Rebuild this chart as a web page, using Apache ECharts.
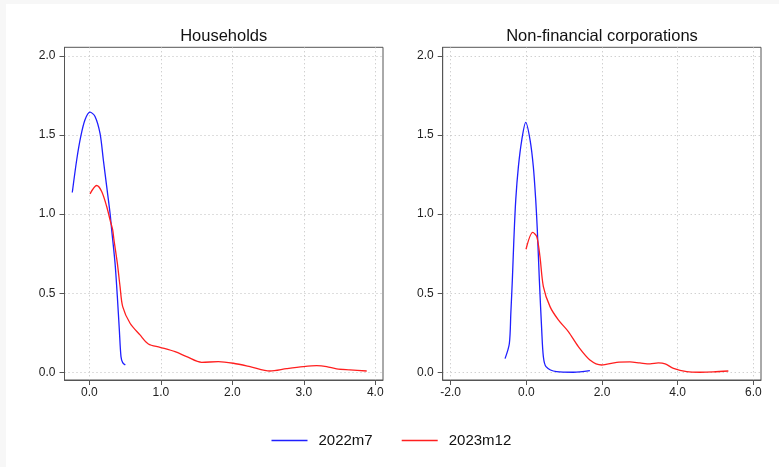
<!DOCTYPE html>
<html>
<head>
<meta charset="utf-8">
<script src="https://cdn.jsdelivr.net/npm/echarts@6/dist/echarts.min.js"></script>
<style>
  html, body { margin: 0; padding: 0; background: #f7f7f7; width: 779px; height: 467px; overflow: hidden; }
  #chart { position: absolute; left: 6px; top: 4px; width: 773px; height: 463px; background: #ffffff; }
</style>
</head>
<body>
<div id="chart"></div>
<script>
// Kernel density estimates of rate changes, by sector and period
const panelTitles = ['Households', 'Non-financial corporations'];
const seriesNames = ['2022m7', '2023m12'];

// Households, 2022m7
const hhX1 = [-0.238, -0.176, -0.12, -0.06, 0.01, 0.08, 0.15, 0.196, 0.243, 0.29, 0.313, 0.36, 0.392, 0.42, 0.443, 0.467, 0.504];
const hhY1 = [1.137, 1.344, 1.49, 1.597, 1.645, 1.618, 1.51, 1.344, 1.175, 1.006, 0.90, 0.69, 0.479, 0.268, 0.099, 0.061, 0.046];
// Households, 2023m12
const hhX2 = [0.01, 0.103, 0.173, 0.243, 0.29, 0.327, 0.345, 0.392, 0.43, 0.467, 0.57, 0.709, 0.826, 0.989, 1.199, 1.362, 1.572, 1.805, 2.014, 2.248, 2.527, 2.76, 2.993, 3.18, 3.32, 3.46, 3.646, 3.88];
const hhY2 = [1.128, 1.181, 1.143, 1.048, 0.964, 0.90, 0.837, 0.69, 0.542, 0.415, 0.31, 0.236, 0.179, 0.158, 0.13, 0.099, 0.063, 0.067, 0.057, 0.036, 0.008, 0.023, 0.036, 0.042, 0.036, 0.021, 0.015, 0.008];
// Non-financial corporations, 2022m7
const nfcX1 = [-0.563, -0.45, -0.41, -0.37, -0.33, -0.28, -0.21, -0.12, -0.016, 0.098, 0.185, 0.248, 0.29, 0.344, 0.406, 0.45, 0.52, 0.80, 1.24, 1.68];
const nfcY1 = [0.086, 0.18, 0.373, 0.584, 0.837, 1.09, 1.30, 1.47, 1.58, 1.47, 1.30, 1.09, 0.90, 0.584, 0.268, 0.099, 0.036, 0.004, 0.0, 0.01];
// Non-financial corporations, 2023m12
const nfcX2 = [-0.008, 0.17, 0.275, 0.36, 0.45, 0.626, 0.846, 1.11, 1.375, 1.68, 1.99, 2.39, 2.74, 3.0, 3.27, 3.49, 3.67, 3.89, 4.24, 4.59, 4.94, 5.34];
const nfcY2 = [0.778, 0.884, 0.858, 0.732, 0.542, 0.415, 0.331, 0.257, 0.162, 0.078, 0.046, 0.063, 0.065, 0.059, 0.053, 0.059, 0.053, 0.025, 0.004, 0.0, 0.002, 0.008];

// Axis ticks
const hhXTicks = [0, 1, 2, 3, 4];
const nfcXTicks = [-2, 0, 2, 4, 6];
const yTicks = [0, 0.5, 1, 1.5, 2];

const pairs = (xs, ys) => xs.map((x, i) => [x, ys[i]]);

const COL_A = '#1f1fff';
const COL_B = '#ff1f1f';
const FONT = 'Liberation Sans, Arial, Helvetica, sans-serif';

const gridLine = { show: true, lineStyle: { color: '#bdbdbd', type: [1, 3], width: 1 } };

function xAxisFor(gi, min, max, ticks) {
  return {
    type: 'value', gridIndex: gi, min: min, max: max,
    axisLine: { show: true, onZero: false, lineStyle: { color: '#555', width: 1 } },
    axisTick: { show: true, inside: false, length: 5, customValues: ticks, lineStyle: { color: '#555' } },
    axisLabel: { customValues: ticks, color: '#222', fontSize: 12, fontFamily: FONT, margin: 7,
                 formatter: v => v.toFixed(1) },
    splitLine: gridLine
  };
}
function yAxisFor(gi) {
  return {
    type: 'value', gridIndex: gi, min: -0.049, max: 2.055,
    axisLine: { show: true, onZero: false, lineStyle: { color: '#555', width: 1 } },
    axisTick: { show: true, inside: false, length: 5, customValues: yTicks, lineStyle: { color: '#555' } },
    axisLabel: { customValues: yTicks, color: '#222', fontSize: 12, fontFamily: FONT, margin: 9,
                 formatter: v => v.toFixed(1) },
    splitLine: gridLine
  };
}
function line(name, gi, data, color) {
  return {
    name: name, type: 'line', xAxisIndex: gi, yAxisIndex: gi,
    data: data, symbol: 'none', showSymbol: false, smooth: 0.3,
    lineStyle: { color: color, width: 1.3 }, itemStyle: { color: color },
    animation: false
  };
}

const chart = echarts.init(document.getElementById('chart'), null, { renderer: 'canvas' });
chart.setOption({
  animation: false,
  backgroundColor: '#ffffff',
  title: [
    { text: panelTitles[0], left: 217.7, top: 23, textAlign: 'center', padding: 0,
      textStyle: { fontSize: 16.5, fontWeight: 'normal', color: '#111', fontFamily: FONT, lineHeight: 18 } },
    { text: panelTitles[1], left: 596, top: 23, textAlign: 'center', padding: 0,
      textStyle: { fontSize: 16.5, fontWeight: 'normal', color: '#111', fontFamily: FONT, lineHeight: 18 } }
  ],
  legend: {
    data: seriesNames, left: 265.5, top: 429, padding: 0,
    icon: 'rect', itemWidth: 36, itemHeight: 1.5, itemGap: 29,
    textStyle: { fontSize: 15, color: '#111', fontFamily: FONT, padding: [0, 0, 0, 6] }
  },
  grid: [
    { left: 58.5, top: 43.3, width: 318.5, height: 332.7, show: true, borderColor: '#555', borderWidth: 1, backgroundColor: 'transparent' },
    { left: 436.7, top: 43.3, width: 318.3, height: 332.7, show: true, borderColor: '#555', borderWidth: 1, backgroundColor: 'transparent' }
  ],
  xAxis: [
    xAxisFor(0, -0.347, 4.108, hhXTicks),
    xAxisFor(1, -2.211, 6.203, nfcXTicks)
  ],
  yAxis: [yAxisFor(0), yAxisFor(1)],
  series: [
    line(seriesNames[0], 0, pairs(hhX1, hhY1), COL_A),
    line(seriesNames[1], 0, pairs(hhX2, hhY2), COL_B),
    line(seriesNames[0], 1, pairs(nfcX1, nfcY1), COL_A),
    line(seriesNames[1], 1, pairs(nfcX2, nfcY2), COL_B)
  ]
});
</script>
</body>
</html>
